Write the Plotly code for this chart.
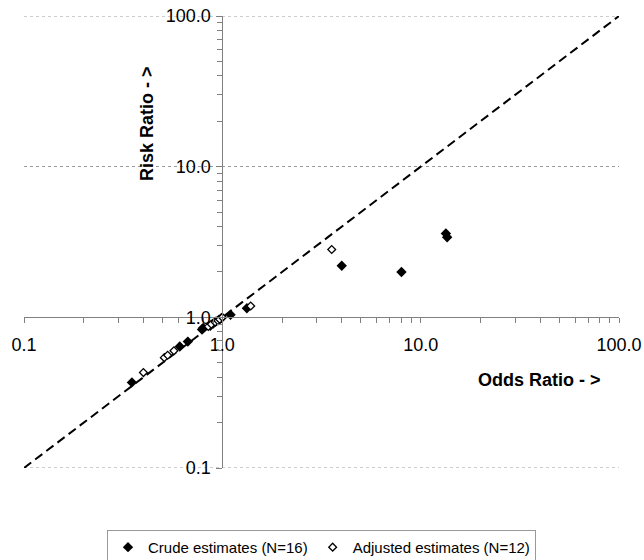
import plotly.graph_objects as go

# Crude estimates (N=16): odds ratio vs risk ratio
crude_or = [0.35, 0.61, 0.67, 0.79, 0.80, 0.87, 0.90, 0.93, 0.96, 0.99, 1.10, 1.33, 4.0, 8.0, 13.4, 13.6]
crude_rr = [0.37, 0.64, 0.69, 0.83, 0.85, 0.88, 0.91, 0.94, 0.96, 0.99, 1.04, 1.15, 2.2, 2.0, 3.6, 3.4]

# Adjusted estimates (N=12)
adj_or = [0.40, 0.51, 0.53, 0.57, 0.85, 0.88, 0.92, 0.95, 0.97, 1.00, 1.39, 3.56]
adj_rr = [0.43, 0.54, 0.56, 0.60, 0.87, 0.90, 0.93, 0.95, 0.97, 1.00, 1.19, 2.82]

# Line of identity
ident = [0.1, 100]

tick_vals = [0.1, 1, 10, 100]
tick_text = ["0.1", "1.0", "10.0", "100.0"]
edge_grid = [0.1, 100]
minor_vals = [0.2, 0.3, 0.4, 0.5, 0.6, 0.7, 0.8, 0.9,
              2, 3, 4, 5, 6, 7, 8, 9,
              20, 30, 40, 50, 60, 70, 80, 90]

FONT = "Liberation Sans, Arial, sans-serif"
AXC = "#808080"
GRIDC = "#9a9a9a"

fig = go.Figure()
fig.add_trace(go.Scatter(x=ident, y=ident, mode="lines", showlegend=False,
                         line=dict(color="black", width=2, dash="9px,5px"),
                         hoverinfo="skip"))
fig.add_trace(go.Scatter(x=crude_or, y=crude_rr, mode="markers",
                         name="Crude estimates (N=16)",
                         marker=dict(symbol="diamond", size=8, color="black")))
fig.add_trace(go.Scatter(x=adj_or, y=adj_rr, mode="markers",
                         name="Adjusted estimates (N=12)",
                         marker=dict(symbol="diamond", size=6, color="white",
                                     line=dict(color="black", width=1.3))))

# gridlines at the range edges (plotly omits them)
for gv in edge_grid:
    fig.add_shape(type="line", xref="paper", x0=0, x1=1, yref="y", y0=gv, y1=gv,
                  line=dict(color=GRIDC, width=1, dash="dot"), layer="below")

fig.update_xaxes(type="log", range=[-1, 2], anchor="free", position=1/3,
                 automargin=False,
                 showline=True, linecolor=AXC, linewidth=1,
                 showgrid=False, zeroline=False,
                 tickmode="array", tickvals=tick_vals, ticktext=tick_text,
                 ticks="outside", ticklen=5, tickcolor=AXC,
                 ticklabelstandoff=6,
                 tickfont=dict(family=FONT, size=18, color="black"),
                 minor=dict(ticks="outside", ticklen=5, tickcolor=AXC,
                            tickvals=minor_vals, showgrid=False))
fig.update_yaxes(type="log", range=[-1, 2], anchor="free", position=1/3,
                 automargin=False,
                 showline=True, linecolor=AXC, linewidth=1,
                 showgrid=True, gridcolor=GRIDC, griddash="dot", gridwidth=1,
                 zeroline=False,
                 tickmode="array", tickvals=tick_vals, ticktext=tick_text,
                 ticks="outside", ticklen=6, tickcolor=AXC,
                 ticklabelstandoff=2,
                 tickfont=dict(family=FONT, size=18, color="black"),
                 minor=dict(ticks="outside", ticklen=5, tickcolor=AXC,
                            tickvals=minor_vals, showgrid=False))

fig.add_annotation(text="<b>Risk Ratio - ></b>", xref="paper", yref="paper",
                   x=0.2067, y=0.763, xanchor="center", yanchor="middle",
                   textangle=-90, showarrow=False,
                   font=dict(family=FONT, size=18, color="black"))
fig.add_annotation(text="<b>Odds Ratio - ></b>", xref="paper", yref="paper",
                   x=0.867, y=0.195, xanchor="center", yanchor="middle",
                   showarrow=False,
                   font=dict(family=FONT, size=18, color="black"))

fig.update_layout(
    width=644, height=560,
    margin=dict(l=24, r=25, t=16, b=92, autoexpand=False),
    plot_bgcolor="white", paper_bgcolor="white",
    font=dict(family=FONT, color="black"),
    legend=dict(orientation="h", x=0.5, xanchor="center", y=-0.137, yanchor="top",
                bordercolor="#999999", borderwidth=1,
                font=dict(family=FONT, size=15, color="black"),
                itemwidth=30),
)

fig.write_html("out.html", config={"displayModeBar": False},
               post_script="document.body.style.margin='0';document.body.style.overflow='hidden';")
